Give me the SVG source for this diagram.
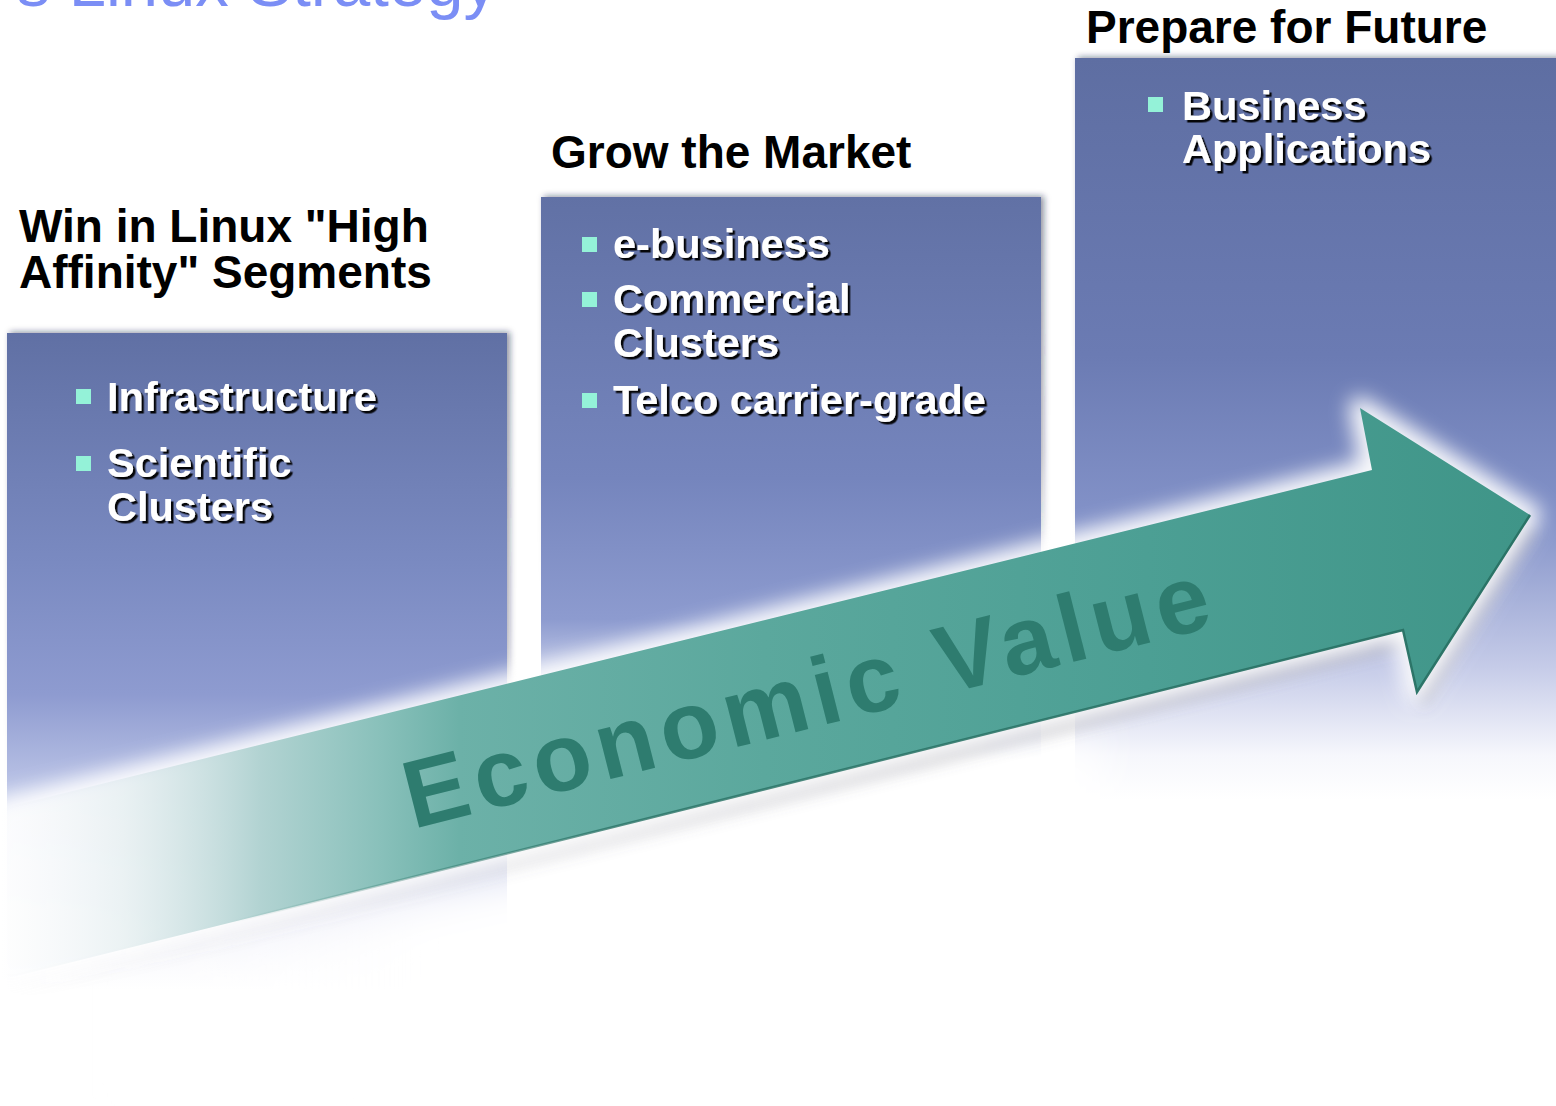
<svg xmlns="http://www.w3.org/2000/svg" width="1556" height="1106" viewBox="0 0 1556 1106">
<defs>
<style>
.head{font-family:"Liberation Sans",Arial,sans-serif;font-weight:bold;font-size:46px;fill:#000}
.item{font-family:"Liberation Sans",Arial,sans-serif;font-weight:bold;font-size:41.5px;fill:#fff;filter:url(#txtShadow)}
.bullet{fill:#94f2d8}
.shadow{filter:url(#blur3)}
.ev{font-family:"Liberation Sans",Arial,sans-serif;font-weight:bold;font-size:96px;fill:#2e7c6f;letter-spacing:7px}
</style>
<filter id="txtShadow" x="-5%" y="-30%" width="115%" height="160%">
<feDropShadow dx="2.5" dy="2.5" stdDeviation="0.6" flood-color="#000" flood-opacity="0.95"/>
</filter>
<filter id="blur3" x="-5%" y="-5%" width="110%" height="110%"><feGaussianBlur stdDeviation="3"/></filter>
<filter id="blur10" x="-10%" y="-30%" width="120%" height="160%"><feGaussianBlur stdDeviation="10"/></filter>
<filter id="blur7" x="-10%" y="-30%" width="120%" height="160%"><feGaussianBlur stdDeviation="7"/></filter>
<filter id="blur20" x="-20%" y="-40%" width="140%" height="180%"><feGaussianBlur stdDeviation="20"/></filter>
<linearGradient id="g1" gradientUnits="userSpaceOnUse" x1="0" y1="333" x2="0" y2="990">
<stop offset="0" stop-color="#6070a4"/>
<stop offset="0.35" stop-color="#7a8ac1"/>
<stop offset="0.55" stop-color="#8e9bd0"/>
<stop offset="0.72" stop-color="#c3cbea"/>
<stop offset="0.88" stop-color="#f1f2fa"/>
<stop offset="1" stop-color="#ffffff"/>
</linearGradient>
<linearGradient id="g2" gradientUnits="userSpaceOnUse" x1="0" y1="197" x2="0" y2="760">
<stop offset="0" stop-color="#6171a5"/>
<stop offset="0.5" stop-color="#7585bd"/>
<stop offset="0.75" stop-color="#8d9bcf"/>
<stop offset="0.9" stop-color="#dfe3f4"/>
<stop offset="1" stop-color="#ffffff"/>
</linearGradient>
<linearGradient id="g3" gradientUnits="userSpaceOnUse" x1="0" y1="58" x2="0" y2="800">
<stop offset="0" stop-color="#5e6ea2"/>
<stop offset="0.4" stop-color="#6b7bb3"/>
<stop offset="0.62" stop-color="#8392c8"/>
<stop offset="0.82" stop-color="#c5cbe8"/>
<stop offset="0.94" stop-color="#f6f7fc"/>
<stop offset="1" stop-color="#ffffff"/>
</linearGradient>
<linearGradient id="gsh" x1="0" y1="0" x2="0" y2="1">
<stop offset="0" stop-color="#1a2040" stop-opacity="0.5"/>
<stop offset="0.45" stop-color="#1a2040" stop-opacity="0.35"/>
<stop offset="0.7" stop-color="#1a2040" stop-opacity="0"/>
</linearGradient>
<linearGradient id="gw" gradientUnits="userSpaceOnUse" x1="120" y1="0" x2="420" y2="0">
<stop offset="0" stop-color="#ffffff" stop-opacity="0"/>
<stop offset="1" stop-color="#ffffff" stop-opacity="1"/>
</linearGradient>
<linearGradient id="ga" gradientUnits="userSpaceOnUse" x1="0" y1="0" x2="1530" y2="0">
<stop offset="0" stop-color="#dfe8f2" stop-opacity="0"/>
<stop offset="0.08" stop-color="#cfe1e4" stop-opacity="0.4"/>
<stop offset="0.17" stop-color="#b2d3d2"/>
<stop offset="0.25" stop-color="#88c0ba"/>
<stop offset="0.3" stop-color="#6cb1a8"/>
<stop offset="0.5" stop-color="#5ba89d"/>
<stop offset="0.75" stop-color="#4c9f94"/>
<stop offset="1" stop-color="#3f9588"/>
</linearGradient>
<linearGradient id="gs" gradientUnits="userSpaceOnUse" x1="0" y1="0" x2="1530" y2="0">
<stop offset="0" stop-color="#606070" stop-opacity="0"/>
<stop offset="0.25" stop-color="#606070" stop-opacity="0.15"/>
<stop offset="0.6" stop-color="#606070" stop-opacity="0.35"/>
<stop offset="1" stop-color="#606070" stop-opacity="0.4"/>
</linearGradient>
<linearGradient id="ge" gradientUnits="userSpaceOnUse" x1="0" y1="0" x2="1530" y2="0">
<stop offset="0.15" stop-color="#2a7366" stop-opacity="0"/>
<stop offset="0.4" stop-color="#2a7366" stop-opacity="0.8"/>
<stop offset="1" stop-color="#2a7366" stop-opacity="1"/>
</linearGradient>
</defs>

<rect x="0" y="0" width="1556" height="1106" fill="#ffffff"/>

<g id="title">
<text x="497" y="6" text-anchor="end" font-family="'Liberation Sans',Arial,sans-serif" font-size="67" fill="#7b8ef5">s Linux Strategy</text>
</g>

<g id="box-win">
<rect class="shadow" x="10" y="332" width="500" height="660" fill="url(#gsh)"/>
<rect x="7" y="333" width="500" height="660" fill="url(#g1)"/>
<text class="head" x="19" y="242">Win in Linux "High</text>
<text class="head" x="19" y="288">Affinity" Segments</text>
</g>

<g id="box-grow">
<rect class="shadow" x="544" y="196" width="500" height="565" fill="url(#gsh)"/>
<rect x="541" y="197" width="500" height="565" fill="url(#g2)"/>
<text class="head" x="551" y="168">Grow the Market</text>
</g>

<g id="box-prepare">
<rect class="shadow" x="1078" y="57" width="490" height="745" fill="url(#gsh)"/>
<rect x="1075" y="58" width="490" height="745" fill="url(#g3)"/>
<text class="head" x="1086" y="43">Prepare for Future</text>
</g>

<g id="economic-value-arrow">
<polygon points="100,990 1100,740 1100,900 100,1106" fill="url(#gw)" filter="url(#blur20)"/>
<polygon points="0,809 1372,470 1360,408 1530,515 1417,692 1403,630 0,980" fill="url(#gs)" transform="translate(6,16)" filter="url(#blur7)"/>
<polygon points="0,809 1372,470 1360,408 1530,515 1417,692 1403,630 0,980" fill="#ffffff" stroke="#ffffff" stroke-width="22" stroke-linejoin="round" filter="url(#blur10)" opacity="0.95"/>
<polygon points="0,809 1372,470 1360,408 1530,515 1417,692 1403,630 0,980" fill="url(#ga)"/>
<polyline points="0,980 1403,630 1417,692 1530,515" fill="none" stroke="url(#ge)" stroke-width="2.5" stroke-linejoin="miter"/>
<text class="ev" transform="translate(413,829) rotate(-14.2)">Economic Value</text>
</g>

<g id="items-win">
<rect class="bullet" x="76" y="389" width="15" height="15"/>
<text class="item" x="107" y="411">Infrastructure</text>
<rect class="bullet" x="76" y="456" width="15" height="15"/>
<text class="item" x="107" y="477">Scientific</text>
<text class="item" x="107" y="521">Clusters</text>
</g>

<g id="items-grow">
<rect class="bullet" x="582" y="237" width="15" height="15"/>
<text class="item" x="613" y="258">e-business</text>
<rect class="bullet" x="582" y="292" width="15" height="15"/>
<text class="item" x="613" y="313">Commercial</text>
<text class="item" x="613" y="357">Clusters</text>
<rect class="bullet" x="582" y="393" width="15" height="15"/>
<text class="item" x="613" y="414">Telco carrier-grade</text>
</g>

<g id="items-prepare">
<rect class="bullet" x="1148" y="97" width="15" height="15"/>
<text class="item" x="1182" y="120">Business</text>
<text class="item" x="1182" y="163">Applications</text>
</g>
</svg>
